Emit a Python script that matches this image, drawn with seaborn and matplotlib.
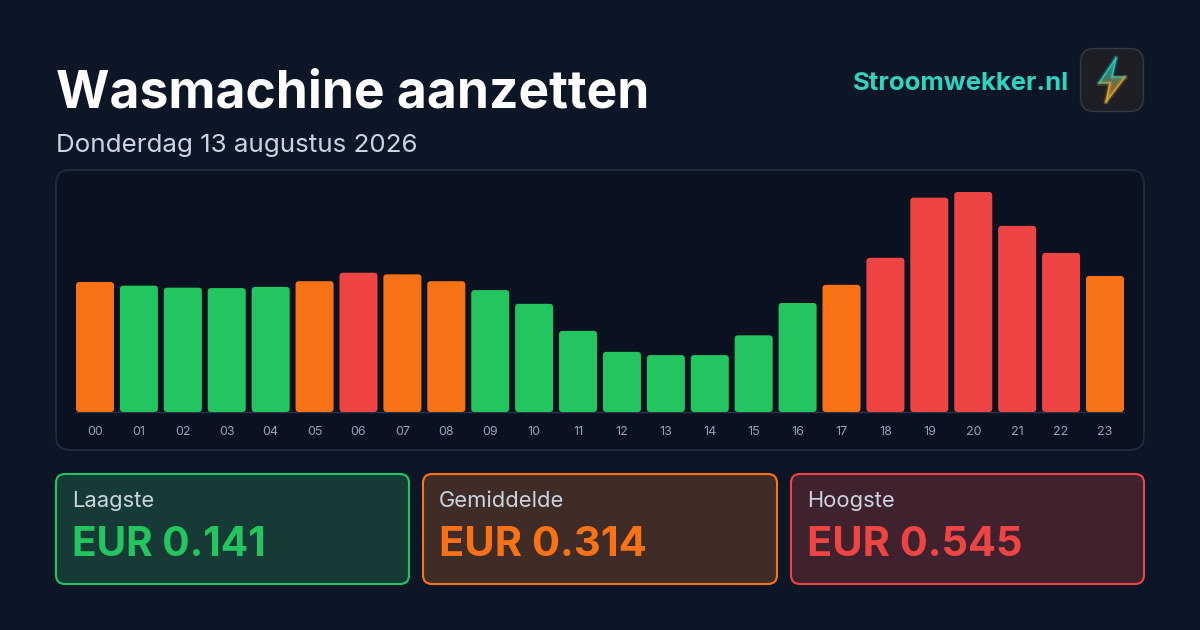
import matplotlib
matplotlib.use('Agg')
import matplotlib.pyplot as plt
import numpy as np
import pandas as pd
import seaborn as sns
from matplotlib.colors import LinearSegmentedColormap
from matplotlib.patches import FancyBboxPatch, Polygon

hours = ['00', '01', '02', '03', '04', '05', '06', '07', '08', '09', '10', '11',
         '12', '13', '14', '15', '16', '17', '18', '19', '20', '21', '22', '23']
prices = [0.322, 0.313, 0.308, 0.307, 0.310, 0.324, 0.345, 0.341, 0.324, 0.302, 0.268, 0.201,
          0.149, 0.141, 0.141, 0.190, 0.270, 0.315, 0.382, 0.531, 0.545, 0.461, 0.394, 0.337]
levels = ['mid', 'low', 'low', 'low', 'low', 'mid', 'high', 'mid', 'mid', 'low', 'low', 'low',
          'low', 'low', 'low', 'low', 'low', 'mid', 'high', 'high', 'high', 'high', 'high', 'mid']

card_labels = ['Laagste', 'Gemiddelde', 'Hoogste']
card_values = ['EUR 0.141', 'EUR 0.314', 'EUR 0.545']
card_levels = ['low', 'mid', 'high']
# matplotlib skips Inter's kerning around the 1, so that value gets a touch smaller
card_value_sizes = [29.2, 30, 29.9]

colors = {'low': '#22c55e', 'mid': '#f97316', 'high': '#ef4444'}
card_fills = {'low': '#163a36', 'mid': '#402c27', 'high': '#40212e'}

W, H = 1200, 630
BG = '#0d1626'

sns.set_theme(style='dark')
plt.rcParams['font.family'] = ['Inter', 'DejaVu Sans']

fig = plt.figure(figsize=(W / 100, H / 100), dpi=100, facecolor=BG)

# overlay in pixel coordinates for everything around the chart
bg = fig.add_axes([0, 0, 1, 1], zorder=0)


def rounded(x0, y0, x1, y1, r, face, edge, lw=1.5):
    bg.add_patch(FancyBboxPatch((x0, y0), x1 - x0, y1 - y0,
                                boxstyle=f'round,pad=0,rounding_size={r}',
                                fc=face, ec=edge, lw=lw))


bg.text(56, 108, 'Wasmachine aanzetten', fontsize=37.1, fontweight='bold', color='#ffffff', va='baseline')
bg.text(56.5, 152, 'Donderdag 13 augustus 2026', fontsize=18.7, color='#cbd5e1', va='baseline')
bg.text(1068.5, 90, 'Stroomwekker.nl', fontsize=18.5, fontweight='bold', color='#2dd4bf', va='baseline', ha='right')

# logo
rounded(1080.5, 48.5, 1143.5, 111.5, 14, '#1d1f25', '#363a42', lw=1)
bolt = [(1116, 58), (1112, 77), (1125, 77), (1106, 102), (1110, 83), (1099, 83)]
bolt_cmap = LinearSegmentedColormap.from_list('bolt', ['#2dd4bf', '#2dbfae', '#c9963a', '#fbbf24'])
shape = Polygon(bolt, closed=True, fc='none', ec='none', transform=bg.transData)
bg.add_patch(shape)
fill = bg.imshow(np.linspace(0, 1, 50).reshape(-1, 1), cmap=bolt_cmap, extent=(1099, 1125, 102, 58),
                 aspect='auto', alpha=0.6, zorder=3)
fill.set_clip_path(shape)
for i in range(len(bolt)):
    (xa, ya), (xb, yb) = bolt[i], bolt[(i + 1) % len(bolt)]
    edge = bolt_cmap(((ya + yb) / 2 - 58) / 44)
    bg.plot([xa, xb], [ya, yb], color=edge, lw=3.5, alpha=0.22, solid_capstyle='round', zorder=3)
    bg.plot([xa, xb], [ya, yb], color=edge, lw=1.1, solid_capstyle='round', zorder=4)

# chart panel
rounded(56, 170, 1144, 450, 14, '#0a1120', '#1e293b', lw=1.5)

# summary cards
card_x = [(56, 409), (423, 777), (791, 1144)]
for (x0, x1), label, value, level, size in zip(card_x, card_labels, card_values, card_levels, card_value_sizes):
    rounded(x0, 474, x1, 584, 9, card_fills[level], colors[level])
    bg.text(x0 + 16, 507, label, fontsize=15.8, color='#cbd5e1', va='baseline')
    bg.text(x0 + 16, 556, value, fontsize=size, fontweight='bold', color=colors[level], va='baseline')

bg.set_xlim(0, W)
bg.set_ylim(H, 0)
bg.axis('off')

# bar chart
ax = fig.add_axes([76 / W, 1 - 412 / H, (1124 - 76) / W, (412 - 172) / H], zorder=1)
ax.patch.set_alpha(0)
df = pd.DataFrame({'hour': hours, 'price': prices, 'level': levels})
sns.barplot(data=df, x='hour', y='price', hue='level', palette=colors, dodge=False,
            width=0.866, saturation=1, legend=False, ax=ax)
ax.set_xlim(-0.433, 23.433)
ax.set_ylim(0, 0.5945)

# swap the square bars for rounded ones, same size and place
box = ax.get_window_extent()
px_x = box.width / (ax.get_xlim()[1] - ax.get_xlim()[0])
px_y = box.height / (ax.get_ylim()[1] - ax.get_ylim()[0])
for bar in list(ax.patches):
    if bar.get_height() <= 0:
        bar.remove()
        continue
    ax.add_patch(FancyBboxPatch((bar.get_x(), bar.get_y()), bar.get_width(), bar.get_height(),
                                boxstyle=f'round,pad=0,rounding_size={3.5 / px_x}',
                                mutation_aspect=px_x / px_y,
                                fc=bar.get_facecolor(), ec='none', zorder=3))
    bar.remove()

ax.set_xlabel('')
ax.set_ylabel('')
ax.set_yticks([])
ax.tick_params(axis='x', length=0, pad=10, labelsize=9, labelcolor='#94a3b8')
for side in ['top', 'left', 'right']:
    ax.spines[side].set_visible(False)
ax.spines['bottom'].set_color('#2a3548')
ax.spines['bottom'].set_linewidth(1)
ax.grid(False)

fig.savefig('out.png', dpi=100, facecolor=BG)
